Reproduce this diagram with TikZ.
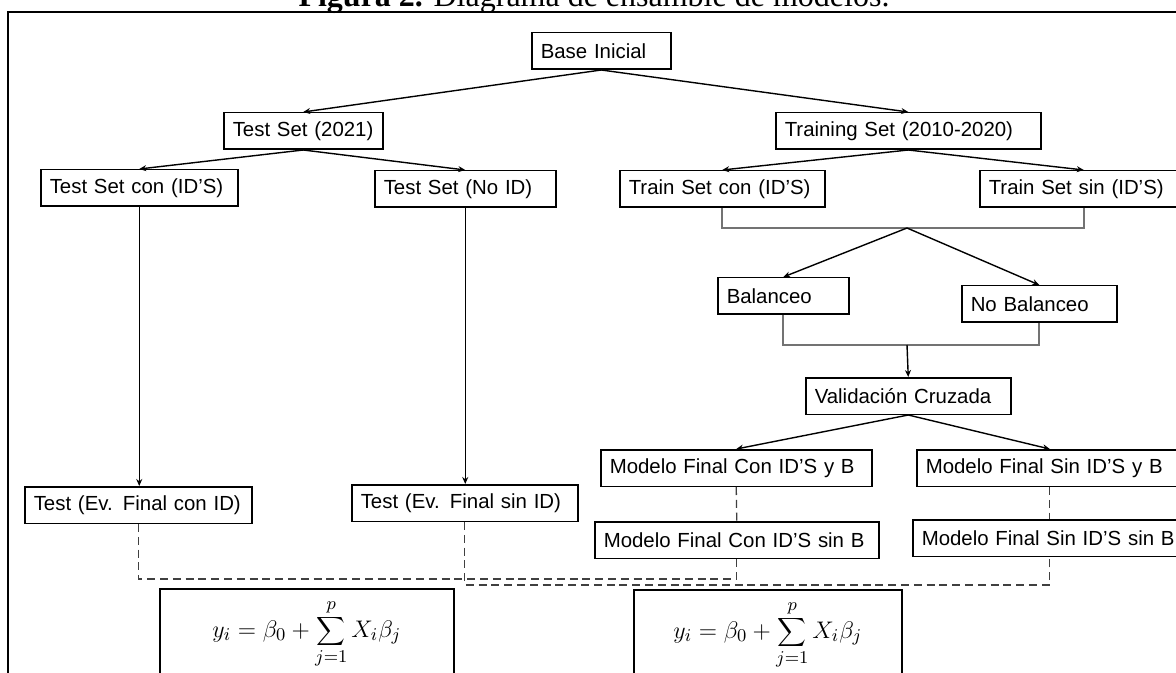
\documentclass[tikz,border=0pt]{standalone}
\usepackage{fontspec}
\setmainfont{Liberation Sans}
\newfontfamily\ttlfont{Liberation Serif}
\usetikzlibrary{arrows.meta}
\begin{document}
\begin{tikzpicture}[x=0.5pt,y=-0.5pt,
  bx/.style={draw, line width=0.75pt, inner xsep=4.5pt, inner ysep=0pt, align=left,
    text width=#1, minimum height=18.25pt, anchor=north west,
    font=\fontsize{10.2}{12}\selectfont},
  fbox/.style={draw, line width=0.75pt, minimum width=147pt, minimum height=45pt,
    anchor=north west, inner sep=0pt},
  arr/.style={line width=0.7pt, -{Stealth[length=3.5pt,width=3pt]}},
  brk/.style={line width=1pt, draw=black!55},
  dsh/.style={line width=0.65pt, draw=black!75, dash pattern=on 4pt off 2.4pt}]
\useasboundingbox (0,0) rectangle (1176,673);
% title and frame
\node[anchor=base, inner sep=0pt, font=\ttlfont\fontsize{16}{18}\selectfont] (title) at (594,7)
  {\textbf{Figura 2.} Diagrama de ensamble de modelos.};
\draw[line width=1pt] (8,700) -- (8,12) -- (1200,12);
% boxes
\node[bx=60.5pt] (base) at (531,32) {Base Inicial};
\node[bx=70.5pt] (ts2021) at (223,112) {Test Set (2021)};
\node[bx=123.5pt] (train) at (775,112) {Training Set (2010-2020)};
\node[bx=89.5pt] (tscon) at (40,169) {Test Set con (ID’S)};
\node[bx=81.5pt] (tsno) at (374,170) {Test Set (No ID)};
\node[bx=93.5pt] (trcon) at (619,170) {Train Set con (ID’S)};
\node[bx=95pt] (trsin) at (979,170) {Train Set sin (ID’S)};
\node[bx=56.5pt] (bal) at (717,277) {Balanceo};
\node[bx=68.5pt] (nobal) at (961,285) {No Balanceo};
\node[bx=93.5pt] (val) at (805,377) {Validación Cruzada};
\node[bx=126.5pt] (mcy) at (600,449) {Modelo Final Con ID’S y B};
\node[bx=124pt] (msy) at (916,449) {Modelo Final Sin ID’S y B};
\node[bx=133pt] (mcs) at (594,521) {Modelo Final Con ID’S sin B};
\node[bx=128pt] (mss) at (912,519) {Modelo Final Sin ID’S sin B};
\node[bx=104.5pt] (tecon) at (24,486) {Test (Ev. Final con ID)};
\node[bx=104pt] (tesin) at (351,484) {Test (Ev. Final sin ID)};
\node[fbox] (f1) at (159,588) {\fontsize{12.5}{14}\selectfont$\displaystyle y_i=\beta_0+\sum_{j=1}^{p}X_i\beta_j$};
\node[fbox, minimum width=134pt] (f2) at (633,589) {\fontsize{12.5}{14}\selectfont$\displaystyle y_i=\beta_0+\sum_{j=1}^{p}X_i\beta_j$};
% connectors
\draw[arr] (base.south) -- (ts2021.north);
\draw[arr] (base.south) -- (train.north);
\draw[arr] (ts2021.south) -- (tscon.north);
\draw[arr] (ts2021.south) -- (tsno.north);
\draw[arr] (train.south) -- (trcon.north);
\draw[arr] (train.south) -- (trsin.north);
\coordinate (j1) at (907,228);
\draw[brk] (trcon.south) |- (j1) -| (trsin.south);
\draw[arr] (j1) -- (bal.north);
\draw[arr] (j1) -- (nobal.north);
\coordinate (j2) at (907,345);
\draw[brk] (bal.south) |- (j2) -| (nobal.south);
\draw[arr] (j2) -- (val.north);
\draw[arr] (val.south) -- (mcy.north);
\draw[arr] (val.south) -- (msy.north);
\draw[dsh] (mcy.south) -- (mcs.north);
\draw[dsh] (msy.south) -- (mss.north);
\draw[arr] (tscon.south) -- (tscon.south |- tecon.north);
\draw[arr] (tsno.south) -- (tsno.south |- tesin.north);
\coordinate (d1) at (0,579);
\coordinate (d2) at (0,585);
\draw[dsh] (tecon.south) -- (tecon.south |- d1) -| (mcs.south);
\draw[dsh] (tesin.south) -- (tesin.south |- d2) -| (mss.south);
\end{tikzpicture}
\end{document}
